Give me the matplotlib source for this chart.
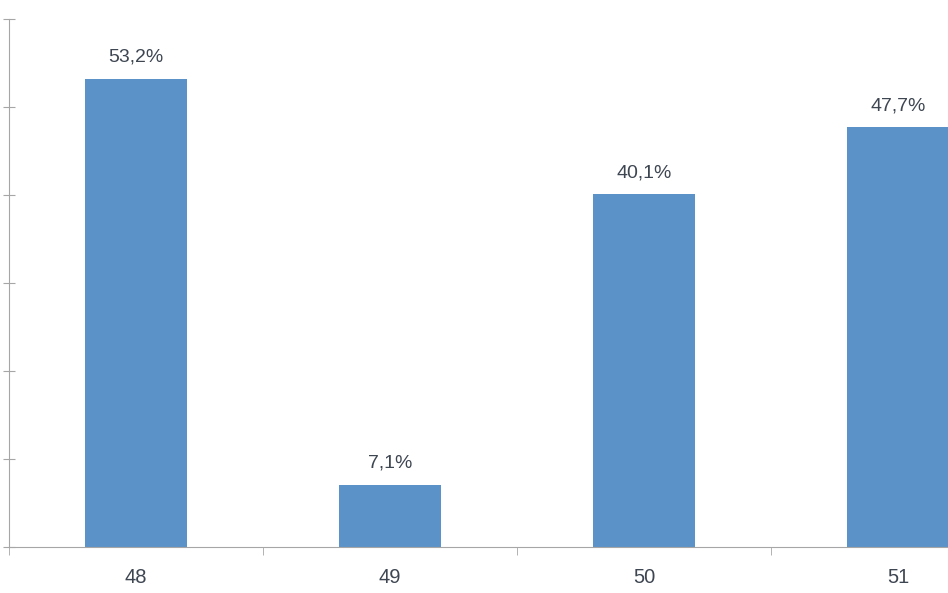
import matplotlib.pyplot as plt

categories = ["48", "49", "50", "51"]
values = [53.2, 7.1, 40.1, 47.7]
value_labels = ["53,2%", "7,1%", "40,1%", "47,7%"]

BAR_COLOR = "#5B92C8"
AXIS_COLOR = "#A6A6A6"
TEXT_COLOR = "#3E4652"

plt.rcParams["font.family"] = ["Liberation Sans", "DejaVu Sans"]

fig = plt.figure(figsize=(9.48, 5.93), dpi=100)

# axes runs past the right edge, the last bar is cut off like in the source
ax = fig.add_axes([9 / 948, 46 / 593, 1016 / 948, 528 / 593])

x = list(range(len(categories)))
bars = ax.bar(x, values, width=0.4, color=BAR_COLOR)

for bar, label in zip(bars, value_labels):
    ax.annotate(
        label,
        xy=(bar.get_x() + bar.get_width() / 2, bar.get_height()),
        xytext=(0, 13),
        textcoords="offset pixels",
        ha="center",
        va="bottom",
        fontsize=14,
        color=TEXT_COLOR
    )

ax.set_xlim(-0.5, len(categories) - 0.5)
ax.set_ylim(0, 60)
ax.set_yticks(range(0, 61, 10))
ax.set_yticklabels([])

ax.set_xticks(x)
ax.set_xticklabels(categories, fontsize=14.5, color=TEXT_COLOR)
ax.tick_params(axis="x", which="major", length=0, pad=15)
ax.set_xticks([i - 0.5 for i in range(len(categories) + 1)], minor=True)
ax.tick_params(axis="x", which="minor", length=6, direction="out", color=AXIS_COLOR)
ax.tick_params(axis="y", length=8, direction="inout", color=AXIS_COLOR)

for side in ["top", "right"]:
    ax.spines[side].set_visible(False)
for side in ["left", "bottom"]:
    ax.spines[side].set_color(AXIS_COLOR)

plt.savefig("out.png", dpi=100)
plt.close()
